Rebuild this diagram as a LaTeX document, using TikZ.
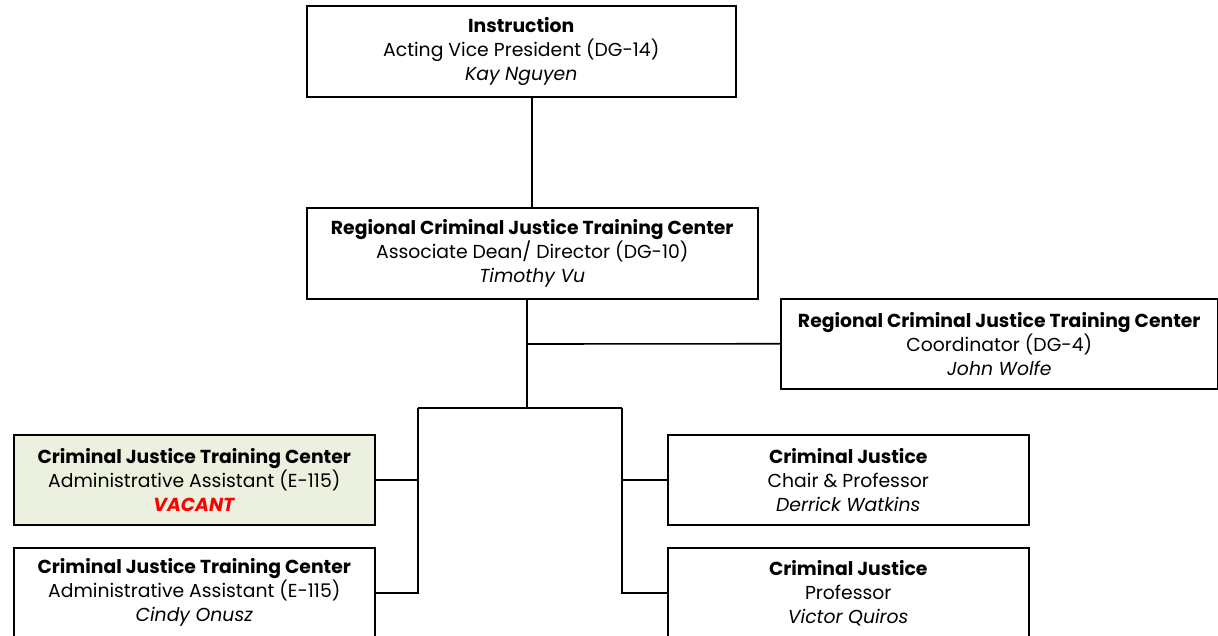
\documentclass[tikz,border=0pt]{standalone}
\usepackage{fontspec}
\setmainfont{Poppins}
\definecolor{boxgreen}{HTML}{EBF1DE}
\definecolor{vacred}{HTML}{FF0000}
\begin{document}
\begin{tikzpicture}[x=1pt,y=-1pt,
  orgbox/.style={draw=black, line width=1.5pt, fill=white, rectangle, align=center,
    font=\fontsize{18.8}{24}\selectfont, inner sep=0pt, anchor=north west},
  conn/.style={draw=black, line width=1.6pt}]
\useasboundingbox (0,0) rectangle (1218,635);
\clip (0,0) rectangle (1218,635);
\fill[white] (0,0) rectangle (1218,635);
% boxes
\node[orgbox, minimum width=429pt, minimum height=91pt] (inst) at (306,5)
  {\textbf{Instruction}\\Acting Vice President (DG-14)\\\textit{Kay Nguyen}};
\node[orgbox, minimum width=451pt, minimum height=91pt] (rcj) at (306,207)
  {\textbf{Regional Criminal Justice Training Center}\\Associate Dean/ Director (DG-10)\\\textit{Timothy Vu}};
\node[orgbox, minimum width=437pt, minimum height=90pt] (coord) at (780,298)
  {\textbf{Regional Criminal Justice Training Center}\\Coordinator (DG-4)\\\textit{John Wolfe}};
\node[orgbox, fill=boxgreen, minimum width=361pt, minimum height=90pt] (vac) at (13,434)
  {\textbf{Criminal Justice Training Center}\\Administrative Assistant (E-115)\\\textcolor{vacred}{\textbf{\textit{VACANT}}}};
\node[orgbox, minimum width=361pt, minimum height=90pt] (cindy) at (13,547)
  {\textbf{Criminal Justice Training Center}\\Administrative Assistant (E-115)\\\textit{Cindy Onusz}};
\node[orgbox, minimum width=361pt, minimum height=90pt] (chair) at (667,434)
  {\textbf{Criminal Justice}\\Chair \& Professor\\\textit{Derrick Watkins}};
\node[orgbox, minimum width=361pt, minimum height=90pt] (prof) at (667,547)
  {\textbf{Criminal Justice}\\Professor\\\textit{Victor Quiros}};
% hub coordinates
\coordinate (h1) at (527,344);
\coordinate (h2) at (527,408);
\coordinate (hl) at (418,408);
\coordinate (hr) at (622,408);
% connectors
\draw[conn] (inst.south -| rcj.north) -- (rcj.north);
\draw[conn] (h2 |- rcj.south) -- (h2);
\draw[conn] (h1) -- (coord.west);
\draw[conn] (hl) -- (hr);
\draw[conn] (hl) |- (vac.east);
\draw[conn] (hl) |- (cindy.east);
\draw[conn] (hr) |- (chair.west);
\draw[conn] (hr) |- (prof.west);
\end{tikzpicture}
\end{document}
